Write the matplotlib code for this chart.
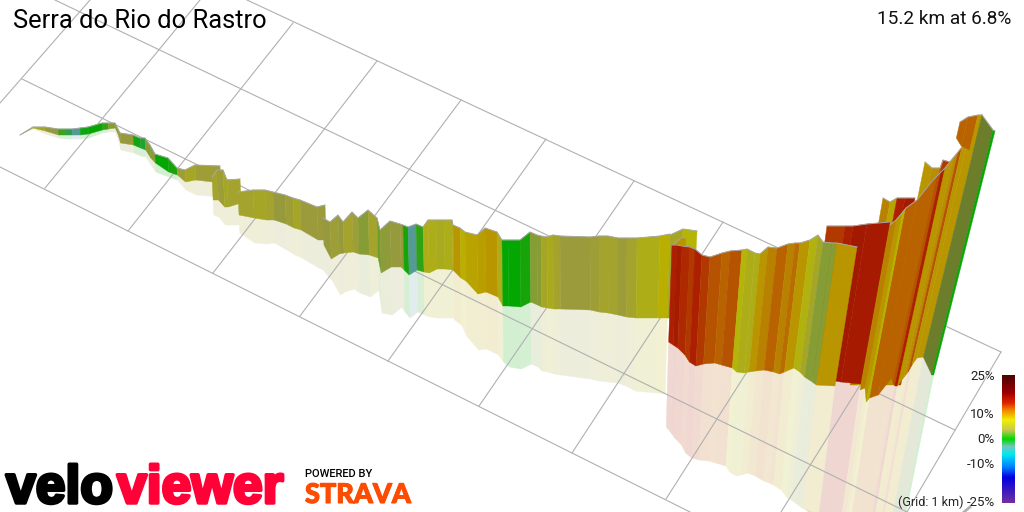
import numpy as np
from matplotlib import pyplot as plt
from matplotlib import patheffects as pe
from matplotlib.colors import LinearSegmentedColormap, to_rgb

# Grid lines (start x, start y, end x, end y).
long_lines = [(247, 0, 1001, 352), (55, 0, 955, 430), (22, 79, 907, 512), (0, 167, 690, 512)]
cross_lines = [(90, 0, 0, 103), (200, 0, 45, 188), (293, 23, 128, 231), (377, 61, 213, 273),
               (461, 100, 300, 316), (546, 139, 388, 361), (634, 181, 479, 406),
               (723, 222, 572, 453), (815, 265, 666, 499), (908, 308, 781, 512),
               (1001, 352, 907, 512)]

# Ribbon stations, one list per column. Sections are in drawing order.
section_sizes = [23, 5, 9, 42, 3, 3, 5, 5, 5, 24, 14, 4, 3]
top_x = [20, 33, 45, 58, 65, 72, 80, 88, 102, 108, 115, 118, 120, 133, 140, 145, 150, 155, 168, 177, 185, 195, 220,
         212, 217, 223, 227, 240,
         238, 253, 265, 273, 285, 293, 300, 317, 325,
         323, 330, 338, 343, 352, 358, 368, 377, 380, 390, 400, 403, 408, 416, 423, 428, 436, 444, 452, 453,
         460, 465, 477, 485, 497, 502, 508, 520, 530, 537, 541, 547, 553, 560, 590, 599, 608, 618, 627, 637,
         660, 670,
         670, 683, 697,
         673, 682, 686,
         883, 890, 897, 905, 915,
         925, 932, 940, 943, 950,
         827, 845, 853, 867, 890,
         672, 677, 682, 690, 695, 702, 710, 722, 730, 742, 747, 755, 760, 768, 777, 788, 795, 800, 810, 818,
         823, 832, 837, 857,
         890, 896, 902, 906, 917, 933, 937, 941, 945, 953, 958, 962, 967, 982,
         960, 968, 978, 982,
         982, 993, 995]
top_y = [135, 127, 127, 129, 129, 129, 128, 127, 123, 123, 123, 129, 133, 135, 138, 138, 145, 154, 158, 168, 170, 165, 166,
         177, 170, 170, 180, 179,
         192, 190, 190, 192, 195, 198, 200, 207, 205,
         218, 222, 215, 222, 212, 218, 210, 218, 230, 221, 224, 225, 227, 224, 227, 220, 220, 220, 220, 225,
         228, 232, 235, 228, 232, 240, 240, 240, 232, 235, 236, 237, 235, 236, 237, 236, 236, 238, 238, 238,
         236, 234,
         235, 229, 231,
         245, 237, 238,
         198, 202, 198, 198, 198,
         162, 168, 168, 160, 162,
         226, 226, 226, 224, 222,
         245, 245, 246, 247, 249, 255, 257, 253, 251, 250, 249, 253, 254, 247, 248, 244, 243, 243, 240, 235,
         242, 243, 243, 247,
         225, 220, 213, 208, 200, 180, 176, 172, 168, 158, 152, 147, 143, 115,
         122, 117, 115, 115,
         115, 130, 131]
base_y = [135, 128, 131, 135, 135, 135, 135, 134, 130, 129, 128, 135, 143, 145, 148, 150, 158, 163, 172, 175, 182, 180, 183,
          200, 200, 207, 207, 203,
          215, 218, 220, 220, 224, 228, 230, 240, 240,
          245, 259, 254, 253, 252, 254, 255, 258, 273, 267, 267, 270, 275, 270, 272, 273, 269, 269, 270, 271,
          278, 281, 294, 292, 297, 306, 306, 307, 302, 305, 307, 308, 309, 309, 310, 312, 313, 315, 317, 318,
          318, 318,
          318, 318, 318,
          252, 252, 252,
          385, 385, 385, 385, 385,
          385, 385, 385, 385, 385,
          373, 378, 380, 382, 384,
          342, 345, 348, 355, 362, 366, 364, 363, 365, 368, 372, 373, 372, 371, 370, 372, 374, 372, 368, 372,
          377, 382, 385, 386,
          390, 388, 402, 398, 395, 378, 383, 386, 386, 377, 372, 365, 358, 357,
          138, 146, 150, 150,
          357, 375, 375]
shadow_y = [135, 129, 134, 138, 139, 139, 139, 138, 133, 132, 132, 141, 150, 153, 156, 157, 165, 172, 177, 180, 190, 195, 197,
            215, 217, 225, 225, 225,
            233, 243, 244, 243, 250, 255, 258, 268, 272,
            272, 280, 295, 292, 289, 293, 297, 290, 313, 315, 307, 312, 318, 312, 315, 317, 318, 318, 318, 320,
            325, 336, 350, 349, 355, 362, 367, 369, 364, 367, 371, 372, 374, 375, 379, 381, 382, 383, 386, 391,
            393, 394,
            318, 318, 318,
            252, 252, 252,
            385, 385, 385, 385, 385,
            385, 385, 385, 385, 385,
            500, 510, 515, 520, 530,
            427, 432, 438, 445, 453, 458, 460, 461, 463, 466, 472, 476, 475, 473, 476, 481, 483, 485, 490, 497,
            500, 505, 508, 514,
            528, 530, 540, 540, 540, 540, 540, 540, 540, 540, 540, 540, 540, 540,
            138, 146, 150, 150,
            540, 540, 540]
# Grade in percent of the stretch that starts at each station.
grade = [4, 5, 3.5, 1.5, -1.5, -3, -0.5, 0, 1, 3, 3, 3.5, 3.5, 0.5, -1, 3, 3, 0, 0.5, 4, 5, 4, 4,
         4.5, 4, 5, 4.5, 4.5,
         4.5, 5, 4.5, 3.5, 4, 5, 3.7, 3.7, 3.7,
         3.5, 4, 3.5, 4.5, 4, 3, 4.5, 2.5, 3.2, 3.5, 3.5, 0.5, -3, 1, 6, 6, 5.5, 6, 5.5, 9,
         8, 8.5, 8.7, 9, 6, 0, 0, 0.5, 3, 3, 5, 5.5, 4.5, 3.7, 4, 4.5, 4.5, 3.8, 4.5, 6,
         8, 8,
         5, 7, 7,
         9, 9, 9,
         10, 8.5, 14, 14.5, 14.5,
         9, 9.5, 11.5, 13, 13,
         13, 14, 14.8, 14.5, 14.5,
         14, 14.5, 13.5, 13, 14, 13, 12, 11.5, 12, 7, 6, 6, 9, 10, 11.5, 10, 11, 9, 6.5, 5,
         3, 3, 9, 9,
         10, 9, 8, 11.5, 11.5, 11.5, 12, 14, 9, 9.5, 12, 9, 9, 9,
         11.5, 11.5, 9, 9,
         3, 0, 0]

grade_stops = [-25, -15, -11, -6, -3, 0, 3.5, 7.5, 11.5, 14, 18, 25]
grade_colours = ['#7030a0', '#0000e0', '#0080ff', '#00e8f0', '#70c8c0', '#00d800', '#c8c850', '#f0f000',
                 '#f08000', '#e02800', '#a00000', '#4a0505']
legend_grades = [25, 10, 0, -10, -25]
legend_y = [380, 417.5, 443, 468, 506.5]

cmap = LinearSegmentedColormap.from_list(
    'grade', [((g + 25) / 50, c) for g, c in zip(grade_stops, grade_colours)])


def lean(x):
    # The walls tilt more the further right they stand.
    return (x - 620) * 0.00067 if x > 620 else (x - 620) * 0.00012


def wall_colour(g, shade=0.77):
    return np.array(to_rgb(cmap((g + 25) / 50))) * shade


fig = plt.figure(figsize=(10.24, 5.12), dpi=100)
ax = fig.add_axes([0, 0, 1, 1])
ax.set_xlim(0, 1024)
ax.set_ylim(512, 0)
ax.axis('off')

for x0, y0, x1, y1 in long_lines + cross_lines:
    ax.plot([x0, x1], [y0, y1], c='#b0b0b0', lw=0.8, zorder=2)
ax.plot([970, 964], [507, 512], c='#b0b0b0', lw=2, zorder=2)

# Walls and their pale reflections, section by section.
start = 0
order = 3
for size in section_sizes:
    end = start + size
    for i in range(start, end - 1):
        j = i + 1
        shade = 0.62 if i == len(top_x) - 3 else 0.77
        col = wall_colour(grade[i], shade)
        pale = col * 0.18 + 0.82
        bx0 = top_x[i] - lean(top_x[i]) * (base_y[i] - top_y[i])
        bx1 = top_x[j] - lean(top_x[j]) * (base_y[j] - top_y[j])
        sx0 = bx0 - 0.8 * lean(top_x[i]) * (shadow_y[i] - base_y[i])
        sx1 = bx1 - 0.8 * lean(top_x[j]) * (shadow_y[j] - base_y[j])
        ax.fill([bx0, bx1, sx1, sx0], [base_y[i], base_y[j], shadow_y[j], shadow_y[i]],
                fc=pale, ec=pale, lw=0.3, zorder=1)
        ax.fill([top_x[i], top_x[j], bx1, bx0], [top_y[i], top_y[j], base_y[j], base_y[i]],
                fc=col, ec=col, lw=0.3, zorder=order)
    ax.plot(top_x[start:end], top_y[start:end], c='#a8a8a8', lw=0.7, zorder=order + 0.5)
    order += 1
    start = end

# Gradient legend.
bar = np.linspace(1, 0, 256).reshape(-1, 1)
ax.imshow(bar, cmap=cmap, extent=(1002, 1015, 503, 375), aspect='auto', zorder=order)
ax.set_xlim(0, 1024)
ax.set_ylim(512, 0)
for g, y in zip(legend_grades, legend_y):
    ax.text(995, y, f'{g}%', ha='right', va='baseline', family='Roboto', fontsize=9.5, color='#222222',
            zorder=order)
ax.text(898, 506, '(Grid: 1 km)', ha='left', va='baseline', family='Roboto', fontsize=9, color='#222222',
        zorder=order)

ax.text(13, 28, 'Serra do Rio do Rastro', family='Roboto', fontsize=18.4, color='black', zorder=order)
ax.text(1011, 24, '15.2 km at 6.8%', ha='right', family='Roboto', fontsize=13.7, color='#111111', zorder=order)

# Logos, thickened with a stroke of their own colour.
ax.text(6, 503, 'velo', family='Liberation Sans', weight='bold', fontsize=38.5, color='black', zorder=order,
        path_effects=[pe.withStroke(linewidth=2.5, foreground='black')])
ax.text(117, 503, 'viewer', family='Liberation Sans', weight='bold', fontsize=38.5, color='#ff0037',
        zorder=order, path_effects=[pe.withStroke(linewidth=2.5, foreground='#ff0037')])
ax.text(305, 477, 'POWERED BY', family='Roboto', weight='medium', fontsize=8, color='black', zorder=order)
ax.text(305, 503, 'STRAVA', family='Lato', weight='black', fontsize=19.5, color='#fc4c02', zorder=order,
        path_effects=[pe.withStroke(linewidth=0.8, foreground='#fc4c02')])

fig.savefig('out.png', dpi=100)
